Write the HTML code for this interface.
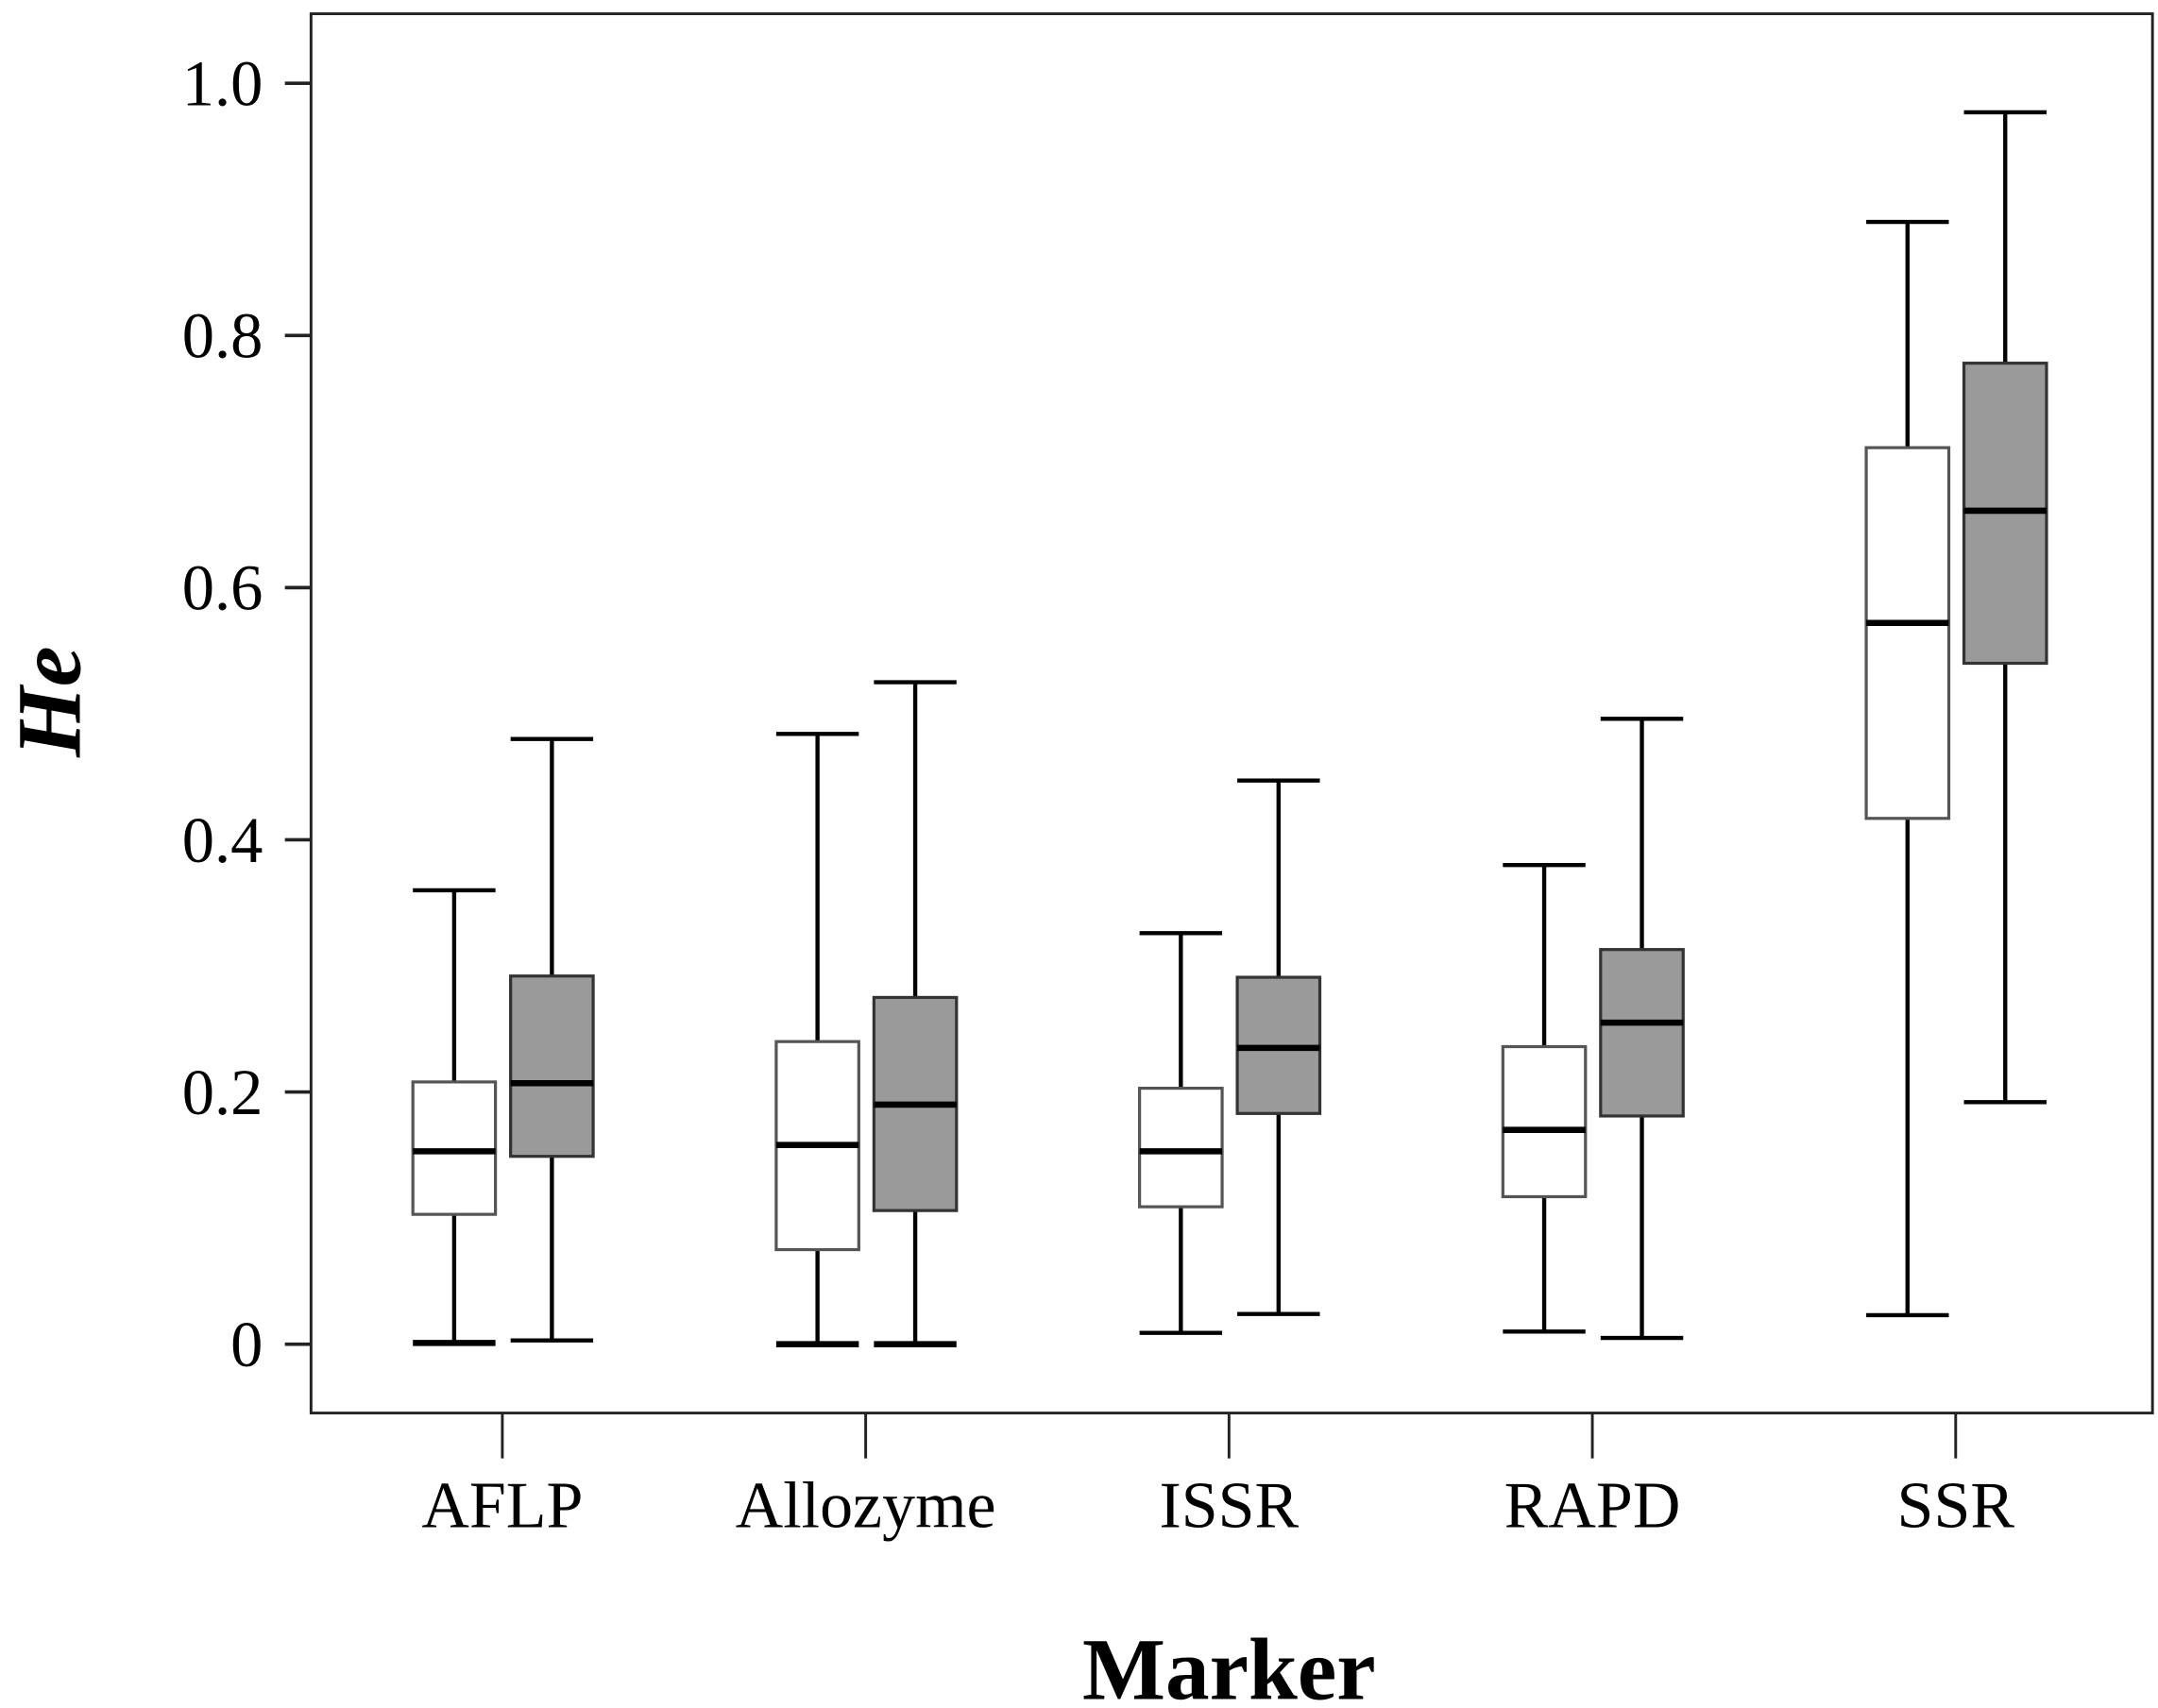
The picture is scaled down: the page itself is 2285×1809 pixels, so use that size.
<!DOCTYPE html>
<html><head><meta charset="utf-8"><style>
html,body{margin:0;padding:0;background:#fff;}
svg{display:block;}
text{font-family:"Liberation Serif",serif;fill:#000;}
</style></head><body>
<svg id="chart" width="2285" height="1809" viewBox="0 0 1568 1241.4" preserveAspectRatio="none" xmlns="http://www.w3.org/2000/svg">
<g id="layer"></g>
</svg>
<script>
const categories = ["AFLP","Allozyme","ISSR","RAPD","SSR"];
const whiteMin = [0.001,0.0,0.009,0.010,0.023];
const whiteQ1  = [0.103,0.075,0.109,0.117,0.417];
const whiteMed = [0.153,0.158,0.153,0.170,0.572];
const whiteQ3  = [0.208,0.240,0.203,0.236,0.711];
const whiteMax = [0.360,0.484,0.326,0.380,0.890];
const grayMin = [0.003,0.0,0.024,0.005,0.192];
const grayQ1  = [0.149,0.106,0.183,0.181,0.540];
const grayMed = [0.207,0.190,0.235,0.255,0.661];
const grayQ3  = [0.292,0.275,0.291,0.313,0.778];
const grayMax = [0.480,0.525,0.447,0.496,0.977];
const yTicks = [0,0.2,0.4,0.6,0.8,1.0];
const yTickLabels = ["0","0.2","0.4","0.6","0.8","1.0"];

const NS="http://www.w3.org/2000/svg";
const g=document.getElementById('layer');
const L=226,R=1564,T=10,B=1027;
function y(v){return 977-v*916.5;}
function x(i){return 365+i*264;}
function mk(tag,attrs){const e=document.createElementNS(NS,tag);for(const k in attrs)e.setAttribute(k,attrs[k]);g.appendChild(e);return e;}

let e=mk('rect',{x:L,y:T,width:R-L,height:B-T,fill:'none',stroke:'#222','stroke-width':2});



yTicks.forEach((v,i)=>{
  let t=mk('line',{x1:207,x2:L,y1:y(v),y2:y(v),stroke:'#222','stroke-width':2.5});
  
  
  let l=mk('text',{x:191,y:y(v)+16,'text-anchor':'end','font-size':47});
  l.textContent=yTickLabels[i];
  
  
});

categories.forEach((c,i)=>{
  let t=mk('line',{x1:x(i),x2:x(i),y1:B,y2:1060,stroke:'#222','stroke-width':2});
  
  
  let l=mk('text',{x:x(i),y:1110,'text-anchor':'middle','font-size':48});
  l.textContent=c;
  
  
});

function box(cx,mn,q1,md,q3,mx,fill,stroke,name){
  const hw=30;
  let w=mk('line',{x1:cx,x2:cx,y1:y(mx),y2:y(mn),stroke:'#000','stroke-width':3});
  
  
  let c1=mk('line',{x1:cx-hw,x2:cx+hw,y1:y(mx),y2:y(mx),stroke:'#000','stroke-width':3});
  
  
  let c2=mk('line',{x1:cx-hw,x2:cx+hw,y1:y(mn),y2:y(mn),stroke:'#000','stroke-width':mn<0.002?4.5:3});
  
  
  let r=mk('rect',{x:cx-hw,y:y(q3),width:2*hw,height:y(q1)-y(q3),fill:fill,stroke:stroke,'stroke-width':2.2});
  
  
  let m=mk('line',{x1:cx-hw,x2:cx+hw,y1:y(md),y2:y(md),stroke:'#000','stroke-width':4.5});
  
  
}
categories.forEach((c,i)=>{
  box(x(i)-35,whiteMin[i],whiteQ1[i],whiteMed[i],whiteQ3[i],whiteMax[i],'#fff','#555','white-'+c.toLowerCase());
  box(x(i)+36,grayMin[i],grayQ1[i],grayMed[i],grayQ3[i],grayMax[i],'#9a9a9a','#333','gray-'+c.toLowerCase());
});

let xt=mk('text',{x:893,y:1235,'text-anchor':'middle','font-size':64,'font-weight':'bold'});
xt.textContent='Marker';


let yt=mk('text',{x:0,y:0,'text-anchor':'middle','font-size':66,'font-weight':'bold','font-style':'italic',transform:'translate(58,510) rotate(-90)'});
yt.textContent='He';


</script>
</body></html>
